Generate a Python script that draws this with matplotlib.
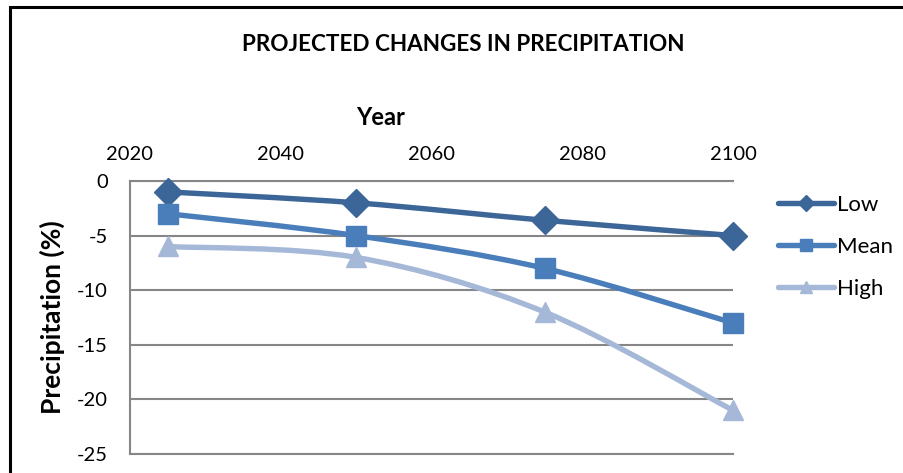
import numpy as np
import matplotlib.pyplot as plt
from matplotlib.path import Path
from matplotlib.patches import PathPatch, Rectangle
from matplotlib.lines import Line2D

plt.rcParams['font.family'] = ['Lato', 'DejaVu Sans']
plt.rcParams['axes.unicode_minus'] = False

# projected change in precipitation (%) by year
years = [2025, 2050, 2075, 2100]
low = [-1.0, -2.0, -3.6, -5.0]
mean = [-3.0, -5.0, -8.0, -13.0]
high = [-6.0, -7.0, -12.0, -21.0]

series = [("Low", low, "#3C6698", "D", 14),
          ("Mean", mean, "#4A7EBB", "s", 14),
          ("High", high, "#A6B8D8", "^", 15)]


def smooth_path(x, y):
    # Catmull-Rom segments converted to cubic Bezier pieces
    pts = np.column_stack([x, y]).astype(float)
    ext = np.vstack([pts[0], pts, pts[-1]])
    verts = [pts[0]]
    codes = [Path.MOVETO]
    for i in range(1, len(ext) - 2):
        p0, p1, p2, p3 = ext[i - 1], ext[i], ext[i + 1], ext[i + 2]
        verts += [p1 + (p2 - p0) / 6, p2 - (p3 - p1) / 6, p2]
        codes += [Path.CURVE4] * 3
    return Path(verts, codes)


fig = plt.figure(figsize=(9.04, 4.73), dpi=100)
ax = fig.add_axes([0.1438, 0.0402, 0.667, 0.5772])

for name, vals, col, mk, ms in series:
    ax.add_patch(PathPatch(smooth_path(years, vals), fill=False, edgecolor=col,
                           lw=3.9, capstyle='round', joinstyle='round', zorder=3))
    ax.plot(years, vals, ls='none', marker=mk, ms=ms, color=col, mec=col,
            clip_on=False, zorder=4)

ax.set_xlim(2020, 2100)
ax.set_ylim(-25, 0)
ax.set_xticks([2020, 2040, 2060, 2080, 2100])
ax.set_yticks([0, -5, -10, -15, -20, -25])
ax.xaxis.tick_top()
ax.xaxis.set_label_position('top')
ax.tick_params(axis='both', length=0, labelsize=14.5)
ax.tick_params(axis='x', pad=13)
ax.tick_params(axis='y', pad=16)

ax.grid(axis='y', color='#868686', lw=1.5)
ax.set_axisbelow(True)
for side in ['top', 'left', 'bottom']:
    ax.spines[side].set_color('#868686')
    ax.spines[side].set_linewidth(1.5)
ax.spines['right'].set_visible(False)

ax.set_xlabel("Year", fontsize=17, fontweight='bold', va='center')
ax.xaxis.set_label_coords(0.416, 1.234)
ax.set_ylabel("Precipitation (%)", fontsize=19, fontweight='bold', va='center')
ax.yaxis.set_label_coords(-0.128, 0.502)

fig.text(0.512, 0.905, "PROJECTED CHANGES IN PRECIPITATION", ha='center',
         va='center', fontsize=16.2, fontweight='bold')

handles = [Line2D([], [], color=col, lw=3.9, marker=mk, ms=ms * 0.6, mec=col,
                  solid_capstyle='round')
           for name, vals, col, mk, ms in series]
fig.legend(handles, [s[0] for s in series], loc='center left',
           bbox_to_anchor=(0.861, 0.478), frameon=False, fontsize=16,
           handlelength=2.5, handletextpad=0.15, labelspacing=0.98,
           borderaxespad=0, borderpad=0)

# outer chart frame
fig.add_artist(Rectangle((0.011, -0.05), 1.05, 1.035, transform=fig.transFigure,
                         fill=False, edgecolor='black', lw=2.2, clip_on=False))

fig.savefig("out.png", dpi=100)
